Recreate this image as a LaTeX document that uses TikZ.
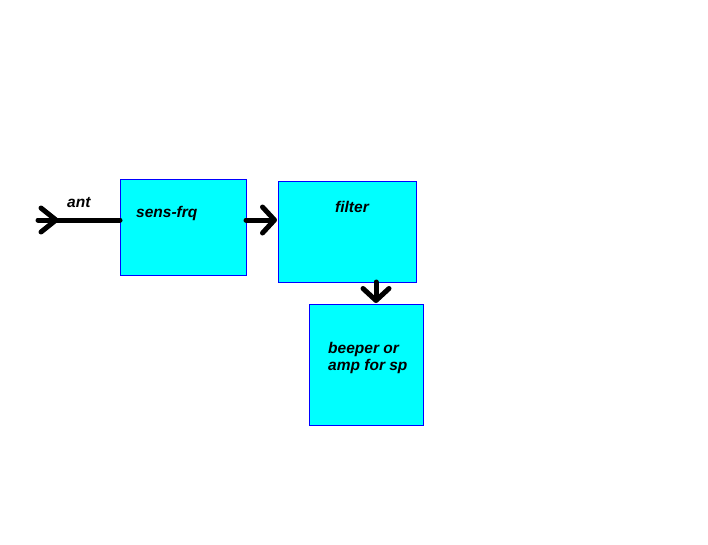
\documentclass[tikz,border=0pt]{standalone}
\usepackage{fontspec}
\setmainfont{Liberation Sans}
\usetikzlibrary{arrows.meta}
\definecolor{boxfill}{RGB}{0,255,255}
\definecolor{boxline}{RGB}{0,0,255}
\tikzset{
  blockbox/.style={draw=boxline, fill=boxfill, line width=1pt, inner sep=0pt, outer sep=0pt},
  conn/.style={line width=5pt, line cap=round, line join=round, black},
  tipconn/.style={conn, -{Straight Barb[length=12pt,width=26pt,line cap=round,line join=round]}},
  lbl/.style={anchor=base west, inner sep=0pt, font=\fontsize{15.5}{18}\selectfont\bfseries\itshape}
}
\begin{document}
\begin{tikzpicture}[x=1pt,y=-1pt]
\useasboundingbox (0,0) rectangle (708,544);
\node[blockbox, minimum width=126pt, minimum height=96pt] (sens) at (183,227) {};
\node[blockbox, minimum width=138pt, minimum height=101pt] (filter) at (347,231.5) {};
\node[blockbox, minimum width=114pt, minimum height=121pt] (beeper) at (366,364.5) {};
\node[lbl] (tsens) at (136,217) {sens-frq};
\node[lbl] (tant) at (67,207) {ant};
\node[lbl] (tfilter) at (335,212) {filter};
\node[lbl, align=left] (tbeep) at (328,370) {beeper or\\[-1pt]amp for sp};
\coordinate (row) at (0,220);
\coordinate (col) at (376,0);
\coordinate (antstart) at (38,220);
\coordinate (anttip) at (56,220);
\coordinate (antarmT) at (41,208);
\coordinate (antarmB) at (41,232);
\draw[conn] (antstart) -- (row -| sens.west);
\draw[conn] (antarmT) -- (anttip) -- (antarmB);
\draw[tipconn] (row -| sens.east) -- ([xshift=-1pt]row -| filter.west);
\draw[tipconn] (col |- filter.south) -- ([yshift=1pt]col |- beeper.north);
\end{tikzpicture}
\end{document}
